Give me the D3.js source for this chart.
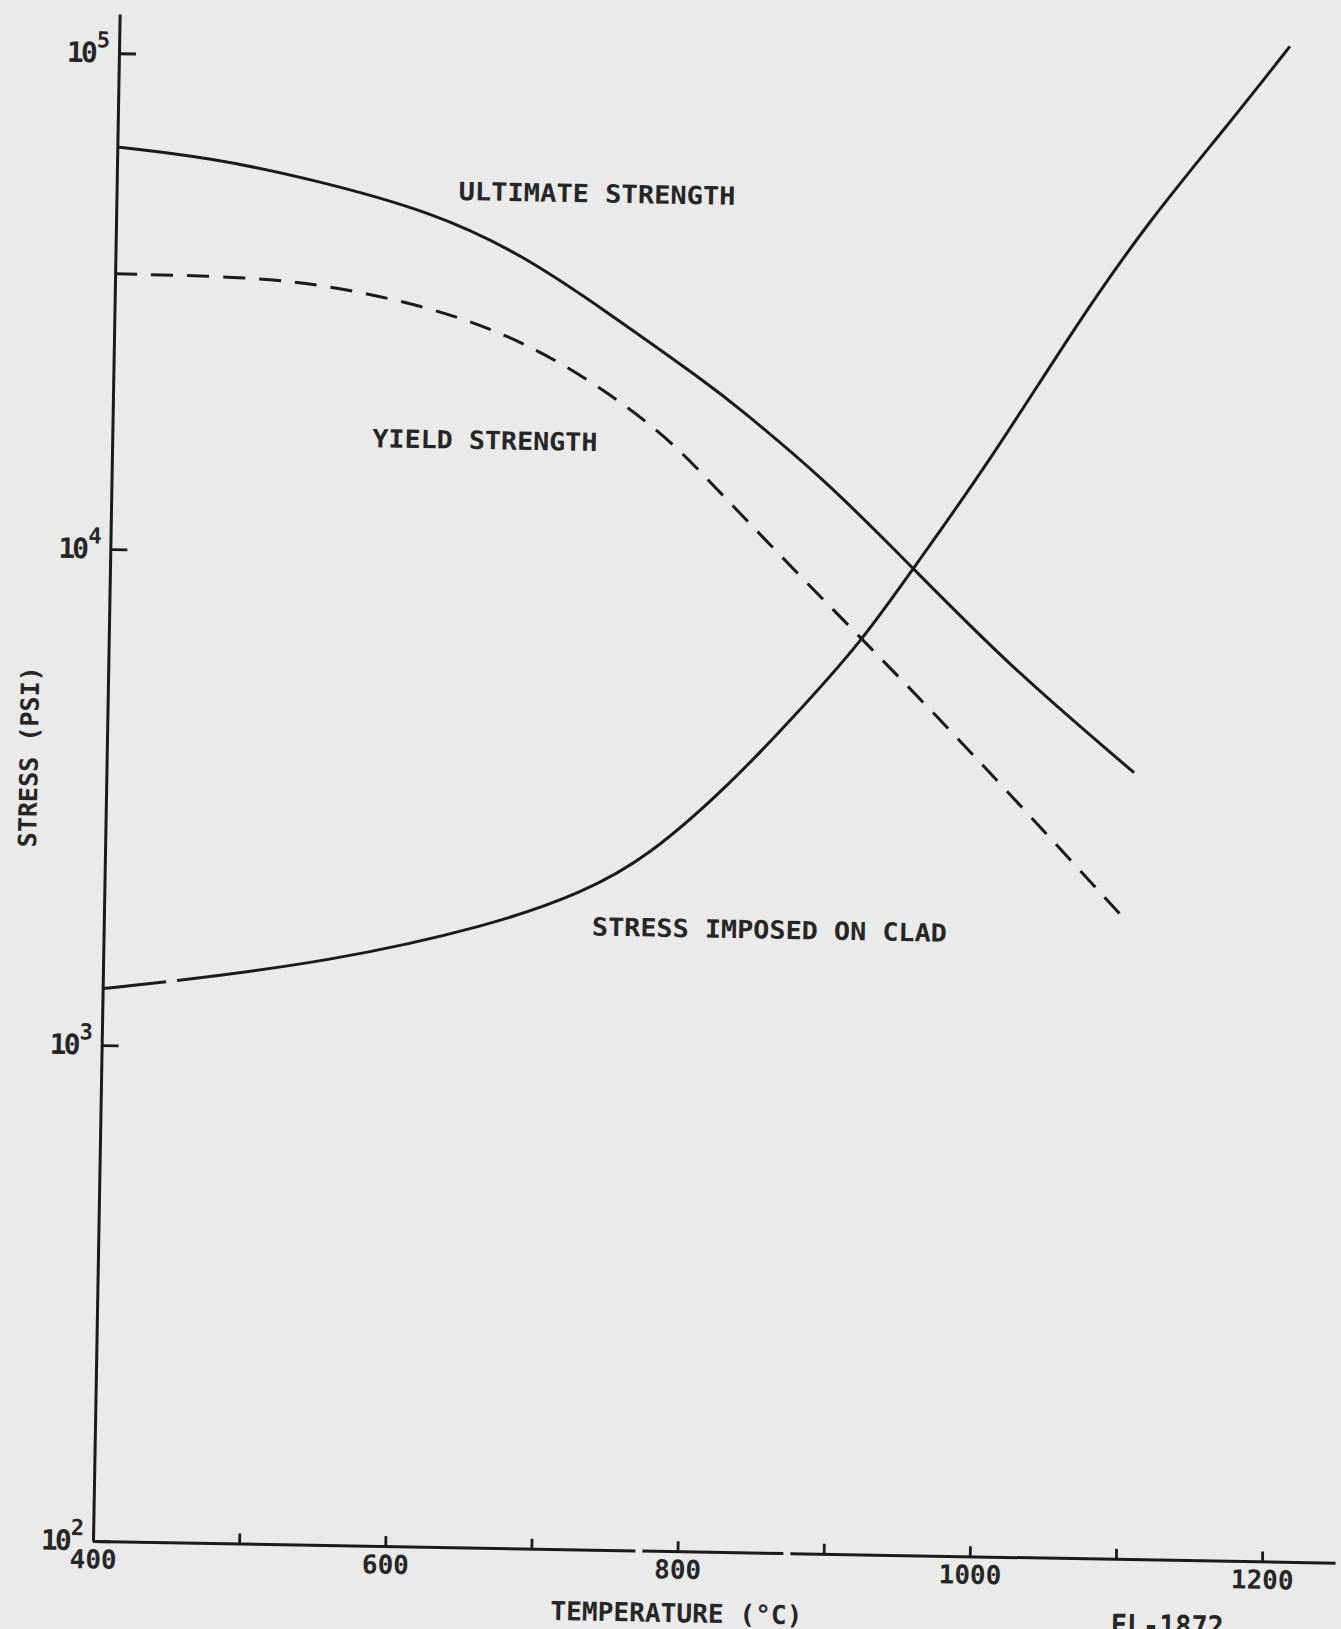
<!DOCTYPE html>
<html>
<head>
<meta charset="utf-8">
<script src="https://cdn.jsdelivr.net/npm/d3@7"></script>
<style>
  html, body { margin: 0; padding: 0; background: #eaeaea; }
  svg { display: block; }
  .lbl {
    font-family: "DejaVu Sans Mono", "Liberation Mono", monospace;
    font-weight: bold;
    fill: #262626;
  }
</style>
</head>
<body>
<svg id="chart"></svg>
<script>
// Readings: temperature (deg C) against stress (psi).
const ultimateTemp = [400, 463, 533, 618, 680, 735, 808, 827, 886, 943, 1015, 1103];
const ultimateStress = [64700, 62100, 56700, 49000, 40300, 31600, 22500, 20400, 14800, 10200, 6300, 3850];

const yieldTemp = [400, 490, 545, 613, 668, 722, 777, 807, 859, 916, 988, 1099];
const yieldStress = [35900, 35800, 34700, 31700, 28100, 23300, 17900, 14600, 10200, 6970, 4290, 1940];

const cladTemp = [400, 446, 555, 663, 728, 772, 825, 868, 916, 948, 998, 1060, 1107, 1161, 1201];
const cladStress = [1300, 1350, 1500, 1790, 2110, 2510, 3490, 4790, 6970, 9620, 15700, 31300, 50100, 79400, 113500];

const xTicks = [400, 500, 600, 700, 800, 900, 1000, 1100, 1200];
const xTickLabels = [400, 600, 800, 1000, 1200];
const yTicks = [1e2, 1e3, 1e4, 1e5];

const curveNames = ['ULTIMATE STRENGTH', 'YIELD STRENGTH', 'STRESS IMPOSED ON CLAD'];
const xTitle = 'TEMPERATURE (°C)';
const yTitle = 'STRESS (PSI)';
const figureId = 'FL-1872';

// Layout. The scan sits about one degree clockwise, so the whole
// plot group is turned by the same amount around the origin.
const width = 1341;
const height = 1629;
const origin = { x: 93, y: 1541 };
const tilt = 1;
const decadePx = 496;
const hundredPx = 146.15;
const xMax = 1250;
const yMax = 1.2e5;
const plotW = (xMax - 400) / 100 * hundredPx;
const plotH = Math.log10(yMax / 1e2) * decadePx;
const ink = '#1a1a1a';
const textInk = '#262626';
const fontStack = '"DejaVu Sans Mono", "Liberation Mono", monospace';

const svg = d3.select('#chart')
    .attr('width', width)
    .attr('height', height);

svg.append('rect')
    .attr('width', width)
    .attr('height', height)
    .attr('fill', '#eaeaea');

const g = svg.append('g')
    .attr('transform', `translate(${origin.x},${origin.y}) rotate(${tilt}) translate(0,${-plotH})`);

const x = d3.scaleLinear().domain([400, xMax]).range([0, plotW]);
const y = d3.scaleLog().domain([1e2, yMax]).range([plotH, 0]);

// x axis, ticks pointing inward, only even hundreds labelled
const xAxis = g.append('g')
    .attr('transform', `translate(0,${plotH})`)
    .call(d3.axisBottom(x)
        .tickValues(xTicks)
        .tickSizeInner(-10)
        .tickSizeOuter(0)
        .tickPadding(9)
        .tickFormat(d => xTickLabels.includes(d) ? d : ''));

xAxis.select('.domain')
    .attr('stroke', ink)
    .attr('stroke-width', 3)
    .attr('stroke-dasharray', '542,7,141,7,10000');
xAxis.selectAll('.tick line').attr('stroke', ink).attr('stroke-width', 2.8);
xAxis.selectAll('.tick text')
    .attr('fill', textInk)
    .attr('font-family', fontStack)
    .attr('font-weight', 'bold')
    .attr('font-size', 26);

// y axis, powers of ten written as 10 with a raised exponent
const yAxis = g.append('g')
    .call(d3.axisLeft(y)
        .tickValues(yTicks)
        .tickSizeInner(-17)
        .tickSizeOuter(0)
        .tickPadding(9)
        .tickFormat(() => ''));

yAxis.select('.domain').attr('stroke', ink).attr('stroke-width', 3);
yAxis.selectAll('.tick line').attr('stroke', ink).attr('stroke-width', 2.8);
yAxis.selectAll('.tick text')
    .attr('fill', textInk)
    .attr('font-family', fontStack)
    .attr('font-weight', 'bold')
    .attr('font-size', 28)
    .each(function(d) {
        const t = d3.select(this);
        t.text(null);
        t.append('tspan').attr('letter-spacing', -3).text('10');
        t.append('tspan')
            .attr('dy', -15)
            .attr('dx', 2)
            .attr('font-size', 22)
            .text(Math.round(Math.log10(d)));
    });

const line = d3.line()
    .x(d => x(d[0]))
    .y(d => y(d[1]))
    .curve(d3.curveBasis);

const zip = (a, b) => a.map((v, i) => [v, b[i]]);

g.append('path')
    .datum(zip(ultimateTemp, ultimateStress))
    .attr('d', line)
    .attr('fill', 'none')
    .attr('stroke', ink)
    .attr('stroke-width', 3);

g.append('path')
    .datum(zip(yieldTemp, yieldStress))
    .attr('d', line)
    .attr('fill', 'none')
    .attr('stroke', ink)
    .attr('stroke-width', 3)
    .attr('stroke-dasharray', '22,14');

g.append('path')
    .datum(zip(cladTemp, cladStress))
    .attr('d', line)
    .attr('fill', 'none')
    .attr('stroke', ink)
    .attr('stroke-width', 3)
    .attr('stroke-dasharray', '64,11,10000');

// curve names, anchored in data units
const labelPlace = [
    { t: 634, s: 52000, len: 277 },
    { t: 578, s: 16400, len: 225 },
    { t: 734, s: 1730, len: 355 },
];

g.selectAll('.curve-name')
    .data(curveNames)
    .join('text')
        .attr('class', 'lbl curve-name')
        .attr('x', (d, i) => x(labelPlace[i].t))
        .attr('y', (d, i) => y(labelPlace[i].s))
        .attr('font-size', 25)
        .attr('textLength', (d, i) => labelPlace[i].len)
        .attr('lengthAdjust', 'spacingAndGlyphs')
        .text(d => d);

g.append('text')
    .attr('class', 'lbl')
    .attr('x', x(800))
    .attr('y', plotH + 71)
    .attr('text-anchor', 'middle')
    .attr('font-size', 26)
    .attr('textLength', 252)
    .attr('lengthAdjust', 'spacingAndGlyphs')
    .text(xTitle);

g.append('text')
    .attr('class', 'lbl')
    .attr('transform', `translate(-69,${plotH - 783}) rotate(-90)`)
    .attr('text-anchor', 'middle')
    .attr('font-size', 25)
    .attr('textLength', 181)
    .attr('lengthAdjust', 'spacingAndGlyphs')
    .text(yTitle);

// figure number, cut by the bottom edge of the scan
g.append('text')
    .attr('class', 'lbl')
    .attr('x', 1019)
    .attr('y', plotH + 76)
    .attr('font-size', 29)
    .attr('textLength', 113)
    .attr('lengthAdjust', 'spacingAndGlyphs')
    .text(figureId);
</script>
</body>
</html>
